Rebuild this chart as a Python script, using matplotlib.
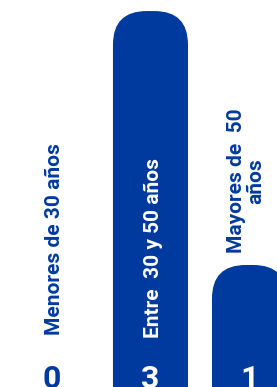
import matplotlib.pyplot as plt
from matplotlib.patches import FancyBboxPatch

categories = ["Menores de 30 años", "Entre  30 y 50 años", "Mayores de  50\naños"]
values = [0, 3, 1]

blue = "#003A9F"
plt.rcParams['font.family'] = ['Roboto', 'DejaVu Sans']

fig = plt.figure(figsize=(2.77, 3.87), dpi=100)
ax = fig.add_axes([0, 0, 1, 1])
ax.set_xlim(-0.52, 2.278)
ax.set_ylim(0.039, 3.087)
ax.axis('off')

# plain bars first, then swap them for rounded ones
bars = ax.bar(range(len(values)), values, width=0.758, color=blue)
for b in bars:
    b.set_visible(False)
    if b.get_height() <= 0:
        continue
    extra = 0.5  # push the lower corners out of view
    p = FancyBboxPatch((b.get_x(), b.get_y() - extra), b.get_width(), b.get_height() + extra,
                       boxstyle="round,pad=0,rounding_size=0.34",
                       mutation_aspect=99 / 127, fc=blue, ec='none')
    ax.add_patch(p)

# category labels
ax.text(0.03, 0.449, categories[0], rotation=90, ha='center', va='bottom',
        color=blue, fontsize=15, fontweight='bold')
ax.text(1.03, 0.425, categories[1], rotation=90, ha='center', va='bottom',
        color='white', fontsize=15, fontweight='bold')
ax.text(1.965, 1.094, categories[2], rotation=90, ha='center', va='bottom',
        color=blue, fontsize=15, fontweight='bold', linespacing=1.0)

# values at the foot of each bar
for i, v in enumerate(values):
    c = 'white' if v > 0 else blue
    ax.text(i, 0.031, str(v), ha='center', va='baseline', color=c,
            fontsize=23, fontweight='bold')

fig.savefig("out.png", dpi=100)
